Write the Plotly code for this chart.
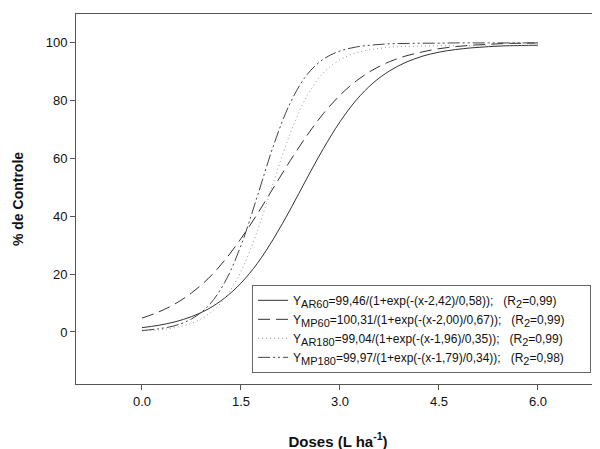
import plotly.graph_objects as go

doses = [0.0, 0.25, 0.5, 0.75, 1.0, 1.25, 1.5, 1.75, 2.0, 2.25, 2.5, 2.75, 3.0,
         3.25, 3.5, 3.75, 4.0, 4.25, 4.5, 4.75, 5.0, 5.25, 5.5, 5.75, 6.0]

ar60 = [1.5, 2.3, 3.5, 5.3, 7.9, 11.7, 16.9, 23.8, 32.5, 42.5, 53.2, 63.5, 72.7,
        80.3, 86.1, 90.3, 93.3, 95.4, 96.8, 97.7, 98.3, 98.7, 99.0, 99.1, 99.2]
mp60 = [4.8, 6.9, 9.7, 13.5, 18.4, 24.7, 32.3, 40.9, 50.2, 59.4, 68.0, 75.6, 81.9,
        86.9, 90.7, 93.5, 95.5, 96.9, 98.0, 98.7, 99.2, 99.5, 99.8, 99.9, 100.0]
ar180 = [0.4, 0.7, 1.5, 3.0, 6.0, 11.5, 21.0, 35.1, 52.4, 68.9, 81.6, 89.7, 94.2,
         96.6, 97.8, 98.5, 98.8, 98.9, 99.0, 99.0, 99.0, 99.0, 99.0, 99.0, 99.0]
mp180 = [0.5, 1.1, 2.2, 4.5, 8.9, 17.0, 29.9, 47.1, 65.0, 79.4, 89.0, 94.4, 97.2,
         98.6, 99.3, 99.7, 99.8, 99.9, 99.9, 100.0, 100.0, 100.0, 100.0, 100.0, 100.0]

sp = "\u00a0"


def sub(t):
    return "<sub><span style='font-size:11px'>" + t + "</span></sub>"


names = [
    "Y" + sub("AR60") + "=99,46/(1+exp(-(x-2,42)/0,58));" + sp * 3 + "(R" + sub("2") + "=0,99)" + sp * 6,
    "Y" + sub("MP60") + "=100,31/(1+exp(-(x-2,00)/0,67));" + sp * 3 + "(R" + sub("2") + "=0,99)" + sp * 6,
    "Y" + sub("AR180") + "=99,04/(1+exp(-(x-1,96)/0,35));" + sp * 3 + "(R" + sub("2") + "=0,99)" + sp * 6,
    "Y" + sub("MP180") + "=99,97/(1+exp(-(x-1,79)/0,34));" + sp * 3 + "(R" + sub("2") + "=0,98)" + sp * 6,
]
series = [ar60, mp60, ar180, mp180]
styles = [
    dict(color="#333333", width=1, dash="solid"),
    dict(color="#333333", width=1, dash="12px,6px"),
    dict(color="#999999", width=1, dash="1px,3px"),
    dict(color="#444444", width=1, dash="12px,3px,2px,3px,2px,3px"),
]

fig = go.Figure()
for nm, ys, st in zip(names, series, styles):
    fig.add_trace(go.Scatter(x=doses, y=ys, mode="lines", name=nm,
                             line=dict(shape="spline", **st)))

font = "Arial, 'Liberation Sans', sans-serif"
fig.update_layout(
    width=600, height=449,
    margin=dict(l=68, r=8, t=6, b=73),
    plot_bgcolor="white", paper_bgcolor="white",
    font=dict(family=font, color="#111111", size=13),
    showlegend=True,
    legend=dict(x=0.336, y=0.268, xanchor="left", yanchor="top",
                bgcolor="white", bordercolor="#666666", borderwidth=1,
                font=dict(size=12, family=font, color="#111111"),
                itemwidth=30, tracegroupgap=0),
    xaxis=dict(range=[-1.0, 6.94], tickvals=[0, 1.5, 3.0, 4.5, 6.0],
               ticktext=["0.0", "1.5", "3.0", "4.5", "6.0"],
               showline=True, linecolor="#555555", linewidth=1, mirror=True,
               ticks="outside", ticklen=5, tickcolor="#555555",
               showgrid=False, zeroline=False, automargin=False,
               title=dict(text="<b>Doses (L ha<sup>-1</sup>)</b>", font=dict(size=15), standoff=28)),
    yaxis=dict(range=[-18, 110], tickvals=[0, 20, 40, 60, 80, 100],
               showline=True, linecolor="#555555", linewidth=1, mirror=False,
               ticks="outside", ticklen=5, tickcolor="#555555",
               showgrid=False, zeroline=False, automargin=False,
               title=dict(text="<b>% de Controle</b>", font=dict(size=14), standoff=18)),
)

fig.write_html("out.html")
